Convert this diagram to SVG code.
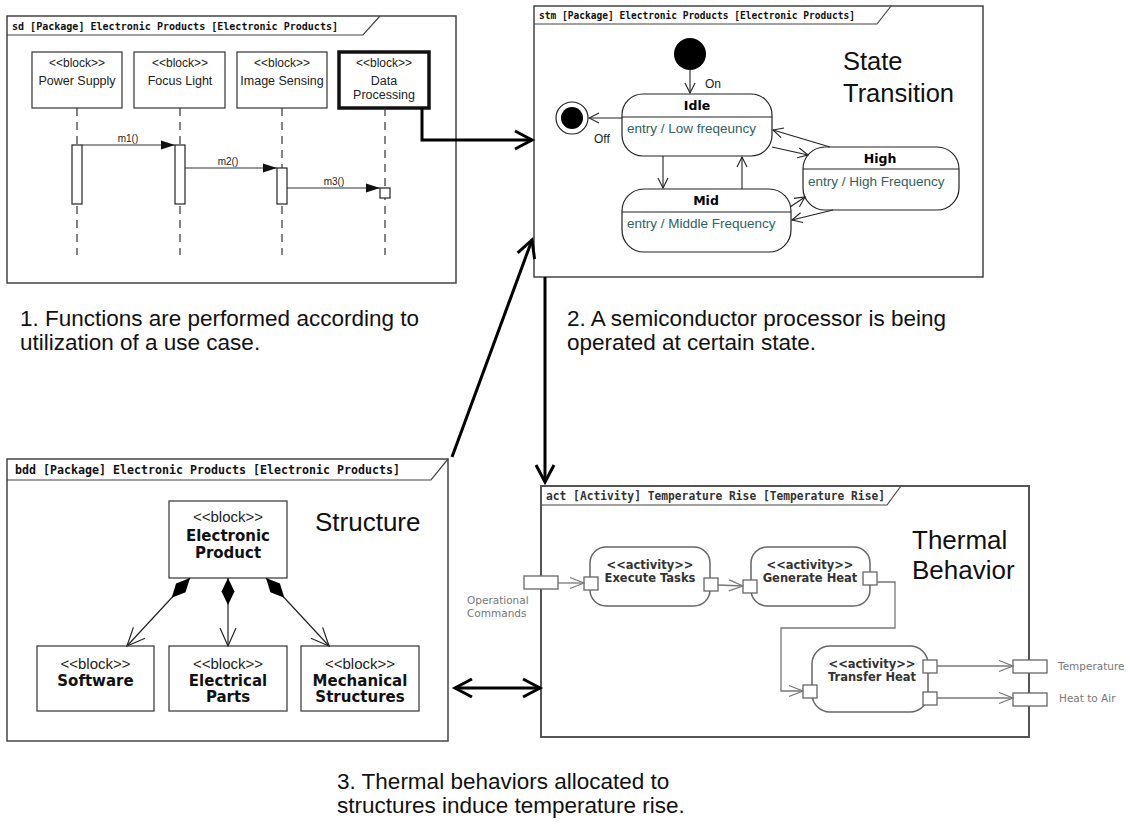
<svg xmlns="http://www.w3.org/2000/svg" width="1133" height="823" viewBox="0 0 1133 823">
  <style>
    .frame { fill: #fff; stroke: #444; stroke-width: 1.5; }
    .tab { fill: none; stroke: #444; stroke-width: 1.2; }
    .hdr { font-family: "DejaVu Sans Mono", "Liberation Mono", monospace; font-weight: bold; fill: #111; }
    .box { fill: #fff; stroke: #333; stroke-width: 1.2; }
    .blk { font-family: "Liberation Sans", Arial, sans-serif; font-size: 12px; fill: #222; text-anchor: middle; }
    .life { stroke: #333; stroke-width: 1.2; stroke-dasharray: 8 6; fill: none; }
    .act-bar { fill: #fff; stroke: #222; stroke-width: 1.2; }
    .msg { stroke: #333; stroke-width: 1.2; fill: none; marker-end: url(#filled); }
    .mlbl { font-family: "Liberation Sans", Arial, sans-serif; font-size: 10px; fill: #222; text-anchor: middle; }
    .note { font-family: "Liberation Sans", Arial, sans-serif; font-size: 22.5px; fill: #111; }
    .big { font-family: "Liberation Sans", Arial, sans-serif; font-size: 25.5px; fill: #111; }
    .state { fill: #fff; stroke: #222; stroke-width: 1.2; }
    .sep { stroke: #222; stroke-width: 1.2; }
    .sname { font-family: "DejaVu Sans", sans-serif; font-weight: bold; font-size: 12.5px; text-anchor: middle; fill: #000; }
    .entry { font-family: "Liberation Sans", Arial, sans-serif; font-size: 13.5px; fill: #2f6262; }
    .tlbl { font-family: "Liberation Sans", Arial, sans-serif; font-size: 12px; fill: #222; }
    .tr { stroke: #222; stroke-width: 1.1; fill: none; marker-end: url(#open); }
    .thick { stroke: #000; stroke-width: 3; fill: none; }
    .bst { font-family: "Liberation Sans", Arial, sans-serif; font-size: 15px; fill: #222; text-anchor: middle; }
    .bname { font-family: "DejaVu Sans", sans-serif; font-weight: bold; font-size: 15px; fill: #111; text-anchor: middle; }
    .comp { stroke: #222; stroke-width: 1.2; fill: none; marker-start: url(#diamond); marker-end: url(#openB); }
    .actbox { fill: #fff; stroke: #666; stroke-width: 1.5; }
    .pin { fill: #fff; stroke: #666; stroke-width: 1.3; }
    .atxt { font-family: "DejaVu Sans", sans-serif; font-weight: bold; font-size: 11.5px; fill: #333; text-anchor: middle; }
    .plbl { font-family: "DejaVu Sans", sans-serif; font-size: 10.5px; fill: #777; }
    .flowa { stroke: #777; stroke-width: 1.3; fill: none; marker-end: url(#openG); }
  </style>
  <defs>
    <marker id="filled" markerUnits="userSpaceOnUse" viewBox="0 0 14 10" markerWidth="14" markerHeight="10" refX="14" refY="5" orient="auto">
      <path d="M0,0.5 L14,5 L0,9.5 z" fill="#111"/>
    </marker>
    <marker id="open" markerUnits="userSpaceOnUse" viewBox="0 0 12 12" markerWidth="12" markerHeight="12" refX="11" refY="6" orient="auto">
      <path d="M1,1 L11,6 L1,11" fill="none" stroke="#222" stroke-width="1.1"/>
    </marker>
    <marker id="openB" markerUnits="userSpaceOnUse" viewBox="0 0 20 20" markerWidth="20" markerHeight="20" refX="19" refY="10" orient="auto">
      <path d="M1,2 L19,10 L1,18" fill="none" stroke="#222" stroke-width="1.2"/>
    </marker>
    <marker id="openG" markerUnits="userSpaceOnUse" viewBox="0 0 16 14" markerWidth="16" markerHeight="14" refX="15" refY="7" orient="auto">
      <path d="M1,1.5 L15,7 L1,12.5" fill="none" stroke="#777" stroke-width="1.3"/>
    </marker>
    <marker id="diamond" markerUnits="userSpaceOnUse" viewBox="0 0 28 14" markerWidth="28" markerHeight="14" refX="0" refY="7" orient="auto">
      <path d="M0,7 L13.5,0.5 L27,7 L13.5,13.5 z" fill="#000"/>
    </marker>
    <marker id="big" markerUnits="userSpaceOnUse" viewBox="0 0 24 22" markerWidth="24" markerHeight="22" refX="18" refY="11" orient="auto-start-reverse">
      <path d="M1,2 L18,11 L1,20" fill="none" stroke="#000" stroke-width="3"/>
    </marker>
  </defs>

  <rect width="1133" height="823" fill="#fff"/>

  <!-- Sequence diagram -->
  <g id="sd-frame">
    <rect class="frame" x="7" y="16" width="449" height="267"/>
    <path class="tab" d="M7,35 H363 L380,16"/>
    <text class="hdr" x="12" y="30" font-size="10" textLength="326" lengthAdjust="spacingAndGlyphs">sd [Package] Electronic Products [Electronic Products]</text>
  </g>
  <g id="ll-power-supply">
    <rect class="box" x="32" y="52" width="90" height="56"/>
    <text class="blk" x="77" y="67">&lt;&lt;block&gt;&gt;</text>
    <text class="blk" x="77" y="85" style="font-size:12.5px">Power Supply</text>
    <line class="life" x1="77" y1="108" x2="77" y2="255"/>
    <rect class="act-bar" x="72" y="145" width="10" height="59"/>
  </g>
  <g id="ll-focus-light">
    <rect class="box" x="134" y="52" width="91" height="56"/>
    <text class="blk" x="180" y="67">&lt;&lt;block&gt;&gt;</text>
    <text class="blk" x="180" y="85" style="font-size:12.5px">Focus Light</text>
    <line class="life" x1="180" y1="108" x2="180" y2="255"/>
    <rect class="act-bar" x="175" y="145" width="10" height="59"/>
  </g>
  <g id="ll-image-sensing">
    <rect class="box" x="237" y="52" width="90" height="56"/>
    <text class="blk" x="282" y="67">&lt;&lt;block&gt;&gt;</text>
    <text class="blk" x="282" y="85" style="font-size:12.5px">Image Sensing</text>
    <line class="life" x1="282" y1="108" x2="282" y2="255"/>
    <rect class="act-bar" x="277" y="168" width="10" height="36"/>
  </g>
  <g id="ll-data-processing">
    <rect class="box" x="339" y="52" width="90" height="56" style="stroke:#111;stroke-width:3.5px"/>
    <text class="blk" x="384" y="67">&lt;&lt;block&gt;&gt;</text>
    <text class="blk" x="384" y="85" style="font-size:12.5px">Data</text>
    <text class="blk" x="384" y="99" style="font-size:12.5px">Processing</text>
    <line class="life" x1="385" y1="108" x2="385" y2="255"/>
    <rect class="act-bar" x="380" y="188" width="10" height="10"/>
  </g>
  <g id="sd-messages">
    <line class="msg" x1="82" y1="145" x2="175" y2="145"/>
    <text class="mlbl" x="128" y="142">m1()</text>
    <line class="msg" x1="185" y1="168" x2="277" y2="168"/>
    <text class="mlbl" x="228" y="165">m2()</text>
    <line class="msg" x1="287" y1="188" x2="380" y2="188"/>
    <text class="mlbl" x="334" y="185">m3()</text>
  </g>

  <!-- State machine diagram -->
  <g id="stm-frame">
    <rect class="frame" x="534" y="6" width="449" height="271"/>
    <path class="tab" d="M534,24 H877 L891,6"/>
    <text class="hdr" x="539" y="19" font-size="10" textLength="316" lengthAdjust="spacingAndGlyphs">stm [Package] Electronic Products [Electronic Products]</text>
    <text class="big" x="843" y="70">State</text>
    <text class="big" x="843" y="102">Transition</text>
  </g>
  <g id="st-initial">
    <circle cx="690" cy="54" r="16" fill="#000"/>
  </g>
  <g id="st-final">
    <circle cx="572" cy="118" r="16" fill="#fff" stroke="#222" stroke-width="1.2"/>
    <circle cx="572" cy="118" r="11" fill="#000"/>
  </g>
  <g id="st-idle">
    <rect class="state" x="622" y="94" width="150" height="62" rx="21"/>
    <line class="sep" x1="622" y1="117" x2="772" y2="117"/>
    <text class="sname" x="697" y="110">Idle</text>
    <text class="entry" x="627" y="133">entry / Low freqeuncy</text>
  </g>
  <g id="st-mid">
    <rect class="state" x="622" y="189" width="169" height="63" rx="22"/>
    <line class="sep" x1="622" y1="212" x2="791" y2="212"/>
    <text class="sname" x="706" y="205">Mid</text>
    <text class="entry" x="627" y="228">entry / Middle Frequency</text>
  </g>
  <g id="st-high">
    <rect class="state" x="803" y="147" width="156" height="63" rx="22"/>
    <line class="sep" x1="803" y1="169" x2="959" y2="169"/>
    <text class="sname" x="880" y="163">High</text>
    <text class="entry" x="808" y="186">entry / High Frequency</text>
  </g>
  <g id="stm-transitions">
    <line class="tr" x1="690" y1="70" x2="690" y2="93"/>
    <text class="tlbl" x="705" y="88">On</text>
    <line class="tr" x1="622" y1="118" x2="589" y2="118"/>
    <text class="tlbl" x="594" y="143">Off</text>
    <line class="tr" x1="663" y1="156" x2="663" y2="188"/>
    <line class="tr" x1="742" y1="189" x2="742" y2="157"/>
    <line class="tr" x1="772" y1="147" x2="808" y2="155"/>
    <line class="tr" x1="830" y1="147" x2="773" y2="130"/>
    <line class="tr" x1="790" y1="207" x2="805" y2="197"/>
    <line class="tr" x1="833" y1="210" x2="792" y2="220"/>
  </g>

  <!-- Block definition diagram -->
  <g id="bdd-frame">
    <rect class="frame" x="7" y="459" width="441" height="282"/>
    <path class="tab" d="M7,480 H431 L448,459"/>
    <text class="hdr" x="15" y="474" font-size="11.5" textLength="385" lengthAdjust="spacingAndGlyphs">bdd [Package] Electronic Products [Electronic Products]</text>
    <text class="big" x="315" y="531" style="font-size:26px">Structure</text>
  </g>
  <g id="blk-electronic-product">
    <rect class="box" x="169" y="501" width="118" height="77"/>
    <text class="bst" x="228" y="522">&lt;&lt;block&gt;&gt;</text>
    <text class="bname" x="228" y="541">Electronic</text>
    <text class="bname" x="228" y="558">Product</text>
  </g>
  <g id="blk-software">
    <rect class="box" x="37" y="646" width="117" height="65"/>
    <text class="bst" x="95.5" y="669">&lt;&lt;block&gt;&gt;</text>
    <text class="bname" x="95.5" y="686">Software</text>
  </g>
  <g id="blk-electrical-parts">
    <rect class="box" x="169" y="646" width="118" height="65"/>
    <text class="bst" x="228" y="669">&lt;&lt;block&gt;&gt;</text>
    <text class="bname" x="228" y="686">Electrical</text>
    <text class="bname" x="228" y="702">Parts</text>
  </g>
  <g id="blk-mechanical-structures">
    <rect class="box" x="301" y="646" width="118" height="65"/>
    <text class="bst" x="360" y="669">&lt;&lt;block&gt;&gt;</text>
    <text class="bname" x="360" y="686">Mechanical</text>
    <text class="bname" x="360" y="702">Structures</text>
  </g>
  <g id="bdd-compositions">
    <line class="comp" x1="190" y1="578" x2="127" y2="646"/>
    <line class="comp" x1="228" y1="578" x2="228" y2="646"/>
    <line class="comp" x1="266" y1="578" x2="329" y2="646"/>
  </g>

  <!-- Activity diagram -->
  <g id="act-frame">
    <rect class="frame" x="541" y="486" width="488" height="251" style="stroke:#555;stroke-width:2px"/>
    <path class="tab" d="M541,505 H887 L901,486"/>
    <text class="hdr" x="546" y="500" font-size="11.5" style="fill:#333" textLength="339" lengthAdjust="spacingAndGlyphs">act [Activity] Temperature Rise [Temperature Rise]</text>
    <text class="big" x="912" y="549" style="font-size:26px">Thermal</text>
    <text class="big" x="912" y="579" style="font-size:26px">Behavior</text>
  </g>
  <g id="param-operational-commands">
    <rect class="pin" x="524" y="576" width="34" height="13"/>
    <text class="plbl" x="467" y="604">Operational</text>
    <text class="plbl" x="467" y="617">Commands</text>
  </g>
  <g id="act-execute-tasks">
    <rect class="actbox" x="590" y="547" width="120" height="59" rx="16"/>
    <text class="atxt" x="650" y="569">&lt;&lt;activity&gt;&gt;</text>
    <text class="atxt" x="650" y="582">Execute Tasks</text>
    <rect class="pin" x="584" y="577" width="14" height="13"/>
    <rect class="pin" x="704" y="578" width="14" height="13"/>
  </g>
  <g id="act-generate-heat">
    <rect class="actbox" x="751" y="547" width="119" height="59" rx="16"/>
    <text class="atxt" x="810" y="569">&lt;&lt;activity&gt;&gt;</text>
    <text class="atxt" x="810" y="582">Generate Heat</text>
    <rect class="pin" x="743" y="580" width="14" height="13"/>
    <rect class="pin" x="863" y="572" width="14" height="13"/>
  </g>
  <g id="act-transfer-heat">
    <rect class="actbox" x="812" y="646" width="116" height="66" rx="18"/>
    <text class="atxt" x="872" y="668">&lt;&lt;activity&gt;&gt;</text>
    <text class="atxt" x="872" y="681">Transfer Heat</text>
    <rect class="pin" x="803" y="685" width="14" height="13"/>
    <rect class="pin" x="923" y="660" width="14" height="13"/>
    <rect class="pin" x="923" y="692" width="14" height="13"/>
  </g>
  <g id="param-temperature">
    <rect class="pin" x="1013" y="660" width="34" height="13"/>
    <text class="plbl" x="1058" y="670">Temperature</text>
  </g>
  <g id="param-heat-to-air">
    <rect class="pin" x="1013" y="693" width="34" height="13"/>
    <text class="plbl" x="1059" y="702">Heat to Air</text>
  </g>
  <g id="act-flows">
    <line class="flowa" x1="558" y1="583" x2="584" y2="583"/>
    <line class="flowa" x1="718" y1="585" x2="743" y2="586"/>
    <path class="flowa" d="M877,582 H895 V628 H781 V691 H803"/>
    <line class="flowa" x1="937" y1="666" x2="1013" y2="666"/>
    <line class="flowa" x1="937" y1="698" x2="1013" y2="698"/>
  </g>

  <!-- Links between the four views -->
  <g id="view-links">
    <path class="thick" d="M422,108 V140 H532" marker-end="url(#big)"/>
    <path class="thick" d="M452,457 L532,240" marker-end="url(#big)"/>
    <path class="thick" d="M545,277 V482" marker-end="url(#big)"/>
    <path class="thick" d="M455,688 H540" marker-start="url(#big)" marker-end="url(#big)"/>
  </g>

  <!-- Captions -->
  <g id="captions">
    <text class="note" x="20" y="326">1. Functions are performed according to</text>
    <text class="note" x="20" y="350">utilization of a use case.</text>
    <text class="note" x="567" y="326">2. A semiconductor processor is being</text>
    <text class="note" x="567" y="350">operated at certain state.</text>
    <text class="note" x="337" y="789">3. Thermal behaviors allocated to</text>
    <text class="note" x="337" y="813">structures induce temperature rise.</text>
  </g>
</svg>
